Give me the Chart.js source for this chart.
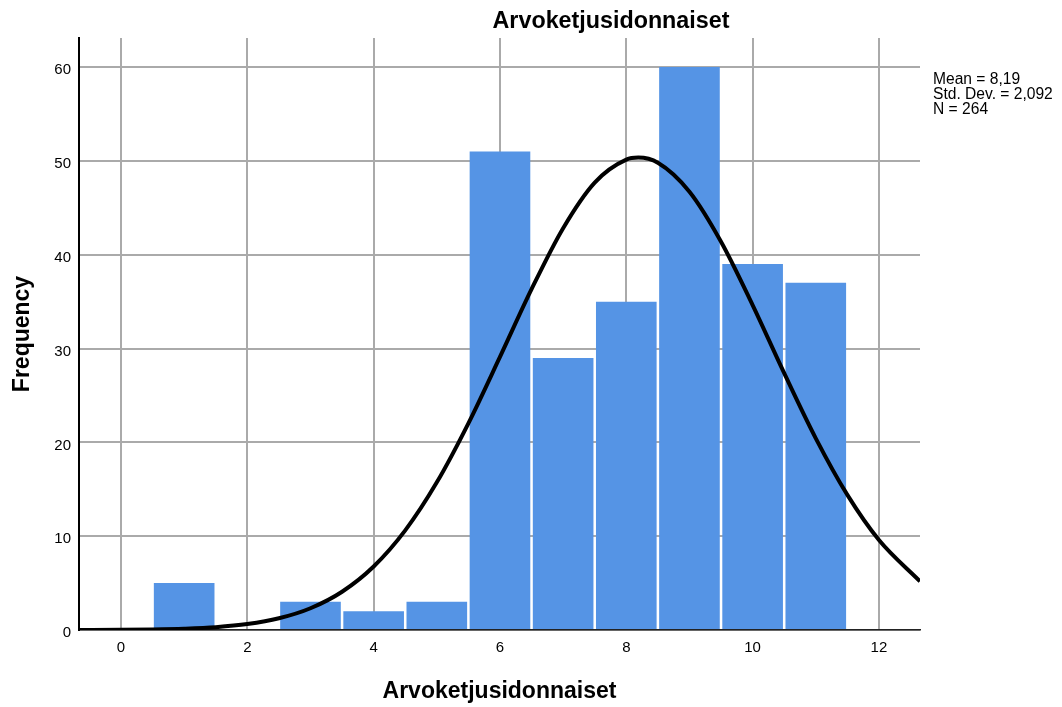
<!DOCTYPE html>
<html>
<head>
<meta charset="utf-8">
<script src="https://cdn.jsdelivr.net/npm/chart.js@4/dist/chart.umd.min.js"></script>
<style>
  body { margin: 0; background: #fff; }
  #wrap { width: 1062px; height: 707px; }
</style>
</head>
<body>
<div id="wrap"><canvas id="hist" width="1062" height="707"></canvas></div>
<script>
// histogram bins (centre of each bin) and counts
const binCentres = [1, 2, 3, 4, 5, 6, 7, 8, 9, 10, 11]
const counts = [5, 0, 3, 2, 3, 51, 29, 35, 60, 39, 37]

// normal curve
const curveX = [-0.665, 0, 0.5, 1, 1.5, 2, 2.5, 3, 3.5, 4, 4.5, 5, 5.5, 6, 6.5, 7, 7.5, 8, 8.19, 8.5, 9, 9.5, 10, 10.5, 11, 11.5, 12, 12.65]
const curveY = [0.01, 0.02, 0.06, 0.14, 0.3, 0.63, 1.25, 2.32, 4.08, 6.77, 10.62, 15.74, 22.03, 29.11, 36.33, 42.83, 47.69, 50.14, 50.35, 49.8, 46.71, 41.38, 34.63, 27.37, 20.43, 14.4, 9.59, 5.19]

const xTicks = [0, 2, 4, 6, 8, 10, 12]
const yTicks = [0, 10, 20, 30, 40, 50, 60]

const statLines = ['Mean = 8,19', 'Std. Dev. = 2,092', 'N = 264']
const titleText = 'Arvoketjusidonnaiset'

const FONT = '"Liberation Sans", Arial, sans-serif'
Chart.defaults.font.family = FONT
Chart.defaults.color = '#000'

const extraText = {
    id: 'extraText',
    afterDraw(chart) {
        const c = chart.ctx
        c.save()
        c.fillStyle = '#000'
        c.textBaseline = 'alphabetic'
        c.font = 'bold 23.3px ' + FONT
        c.textAlign = 'center'
        c.fillText(titleText, 611, 28)
        c.font = '15.6px ' + FONT
        c.textAlign = 'left'
        statLines.forEach((s, i) => c.fillText(s, 933, 84 + i * 15))
        c.restore()
    },
}

const chart = new Chart(document.getElementById('hist'), {
    type: 'bar',
    data: {
        datasets: [
            {
                type: 'line',
                data: curveX.map((x, i) => ({ x: x, y: curveY[i] })),
                borderColor: '#000',
                borderWidth: 4,
                pointRadius: 0,
                cubicInterpolationMode: 'monotone',
                order: 0,
            },
            {
                type: 'bar',
                data: binCentres.map((x, i) => ({ x: x, y: counts[i] })),
                backgroundColor: '#5594e5',
                borderWidth: 0,
                barPercentage: 0.96,
                categoryPercentage: 1,
                order: 1,
            },
        ],
    },
    options: {
        responsive: false,
        animation: false,
        layout: { padding: { top: 38, right: 142, left: 0, bottom: 0 } },
        plugins: {
            legend: { display: false },
            tooltip: { enabled: false },
        },
        scales: {
            x: {
                type: 'linear',
                min: -0.665,
                max: 12.65,
                offset: false,
                afterFit: (s) => { s.height = 77 },
                afterBuildTicks: (s) => { s.ticks = xTicks.map(v => ({ value: v })) },
                ticks: { padding: 9, font: { size: 15 }, color: '#000' },
                grid: { color: '#aaaaaa', lineWidth: 2, drawTicks: false, offset: false },
                border: { color: '#222', width: 1.5 },
                title: {
                    display: true,
                    text: titleText,
                    font: { size: 23, weight: 'bold' },
                    color: '#000',
                    padding: { top: 0, bottom: 2 },
                },
            },
            y: {
                type: 'linear',
                min: 0,
                max: 63.1,
                afterFit: (s) => { s.width = 79 },
                afterBuildTicks: (s) => { s.ticks = yTicks.map(v => ({ value: v })) },
                ticks: { padding: 8, font: { size: 15 }, color: '#000', labelOffset: 3 },
                grid: { color: '#aaaaaa', lineWidth: 2, drawTicks: false },
                border: { color: '#000', width: 2 },
                title: {
                    display: true,
                    text: 'Frequency',
                    font: { size: 23, weight: 'bold' },
                    color: '#000',
                    padding: { top: 9, bottom: 0 },
                },
            },
        },
    },
    plugins: [extraText],
})
</script>
</body>
</html>
